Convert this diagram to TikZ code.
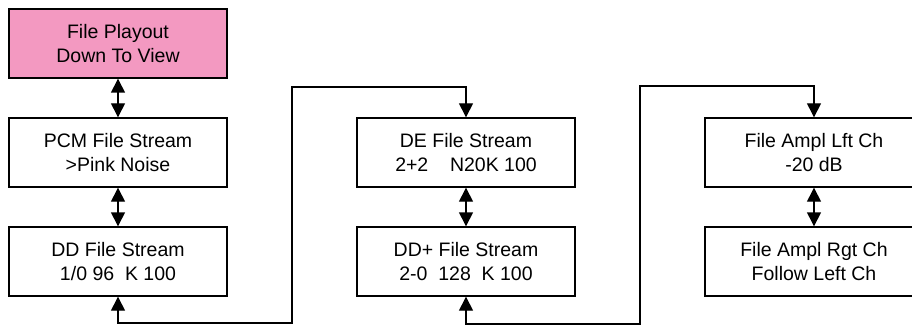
\documentclass[tikz,border=0pt]{standalone}
\usepackage{fontspec}
\setmainfont{Liberation Sans}
\usepackage{xcolor}
\usetikzlibrary{positioning,arrows.meta}
\definecolor{playpink}{RGB}{243,153,193}

\begin{document}
\begin{tikzpicture}[
            x=1pt, y=-1pt,
            node distance=109pt,
            >={Triangle[length=14pt,width=14pt]},
            menu/.style={rectangle, draw, line width=1.4pt, minimum width=218pt, minimum height=69pt,
                         align=center, font=\fontsize{19.5}{24}\selectfont},
            link/.style={line width=1.4pt}
        ]
            \useasboundingbox (0,0) rectangle (912,326);

            \node[menu, fill=playpink] (play) at (118,43.5) {File Playout\\Down To View};
            \node[menu, below of=play] (pcm) {PCM File Stream\\>Pink Noise};
            \node[menu, below of=pcm] (dd) {DD File Stream\\1/0 96~~K 100};

            \node[menu, right of=pcm, node distance=348pt] (de) {DE File Stream\\2+2~~~~N20K 100};
            \node[menu, below of=de] (ddp) {DD+ File Stream\\2-0~~128~~K 100};

            \node[menu, right of=de, node distance=348pt] (lft) {File Ampl Lft Ch\\-20 dB};
            \node[menu, below of=lft] (rgt) {File Ampl Rgt Ch\\Follow Left Ch};

            \draw[<->, link] (play) -- (pcm);
            \draw[<->, link] (pcm) -- (dd);
            \draw[<->, link] (de) -- (ddp);
            \draw[<->, link] (lft) -- (rgt);

            \draw[<->, link] (dd.south) -- (dd.south |- 0,323) -| (292,87) -| (de.north);
            \draw[<->, link] (ddp.south) -- (ddp.south |- 0,324) -| (640,86) -| (lft.north);
        \end{tikzpicture}
\end{document}
